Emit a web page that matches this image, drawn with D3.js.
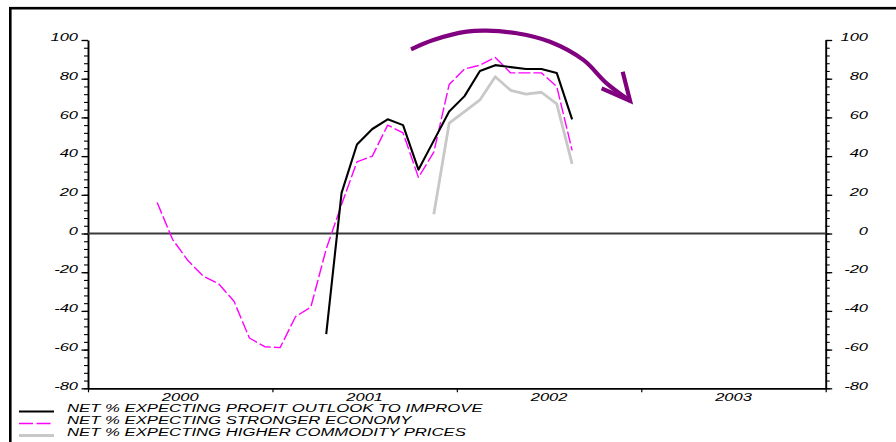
<!DOCTYPE html>
<html>
<head>
<meta charset="utf-8">
<script src="https://cdn.jsdelivr.net/npm/d3@7/dist/d3.min.js"></script>
<style>
  html, body { margin: 0; padding: 0; background: #fff; }
  svg { display: block; }
  text { font-family: "Liberation Sans", Arial, sans-serif; font-style: italic; font-size: 11px; fill: #000; }
</style>
</head>
<body>
<script>
// Monthly survey readings, May 2000 – Aug 2002 (month index counted from Jan 2000)
const firstMonth = 4;
const monthLabels = ["2000-05","2000-06","2000-07","2000-08","2000-09","2000-10","2000-11","2000-12",
  "2001-01","2001-02","2001-03","2001-04","2001-05","2001-06","2001-07","2001-08","2001-09","2001-10","2001-11","2001-12",
  "2002-01","2002-02","2002-03","2002-04","2002-05","2002-06","2002-07","2002-08"];

const profitOutlook = [null,null,null,null,null,null,null,null,null,null,null,
  -52, 21, 46, 54, 59, 56, 33, 48, 63, 71, 84, 87, 86, 85, 85, 83, 59];
const strongerEconomy = [16, -3, -14, -22, -26, -35, -54, -58.5, -59, -43, -38,
  -8, 15, 37, 40, 56, 52, 29, 42, 77, 85, 87, 91, 83, 83, 83, 76, 43];
const commodityPrices = [null,null,null,null,null,null,null,null,null,null,null,
  null,null,null,null,null,null,null, 10, 57, 63, 69, 81, 74, 72, 73, 67, 36];

const yearLabels = ["2000", "2001", "2002", "2003"];
const yMajorTicks = [-80, -60, -40, -20, 0, 20, 40, 60, 80, 100];
const legendLabels = [
  "NET % EXPECTING PROFIT OUTLOOK TO IMPROVE",
  "NET % EXPECTING STRONGER ECONOMY",
  "NET % EXPECTING HIGHER COMMODITY PRICES"
];

// Downturn arrow drawn in chart units: [months since Jan 2000, net %]
const arrowArc = [[21.02, 95.2], [22.47, 100], [24.64, 104.3], [25.94, 104.8], [27.89, 103.5],
  [30.06, 99.1], [32.23, 89.7], [33.75, 77.6], [35.27, 68.6]];
const arrowHead = [[34.79, 83.6], [35.27, 68.6], [33.42, 75.0]];

const W = 896, H = 442;
const svg = d3.select("body").append("svg").attr("width", W).attr("height", H);

// frame
svg.append("rect").attr("x", 10.3).attr("y", 8.2).attr("width", 960).attr("height", 500)
  .attr("fill", "none").attr("stroke", "#000").attr("stroke-width", 2.6);

const plot = { left: 88, right: 825.7, top: 40, bottom: 388.3 };
const x = d3.scaleLinear().domain([0, 48]).range([plot.left, plot.right]);
const y = d3.scaleLinear().domain([-80, 100]).range([plot.bottom, plot.top]);
const sx = 1.5; // horizontal stretch of the lettering
const fmt = d => String(d); // plain hyphen for negatives

// y axes: minor ticks every 4, major every 20
function yAxes(gen, xPos, side) {
  const minor = svg.append("g").attr("transform", `translate(${xPos},0)`)
    .call(gen(y).tickValues(d3.range(-80, 101, 4)).tickSize(4).tickSizeOuter(0).tickFormat(""));
  minor.select(".domain").attr("stroke", "#000").attr("stroke-width", 1.9);
  minor.selectAll(".tick line").attr("stroke", "#000").attr("stroke-width", 1.1);
  const major = svg.append("g").attr("transform", `translate(${xPos},0)`)
    .call(gen(y).tickValues(yMajorTicks).tickSize(6.5).tickSizeOuter(0).tickFormat(fmt));
  major.attr("font-family", null).attr("font-size", null);
  major.select(".domain").remove();
  major.selectAll(".tick line").attr("stroke", "#000").attr("stroke-width", 1.3);
  major.selectAll(".tick text")
    .attr("x", null).attr("dy", null)
    .attr("text-anchor", "end")
    .attr("transform", `translate(${side === "left" ? -10 : 42.3},0.7) scale(${sx},1)`);
}
yAxes(d3.axisLeft, plot.left, "left");
yAxes(d3.axisRight, plot.right, "right");

// x axis: year boundaries with labels centred in each year
const xa = svg.append("g").attr("transform", `translate(0,${plot.bottom})`)
  .call(d3.axisBottom(x).tickValues([0, 12, 24, 36, 48]).tickSize(4).tickSizeOuter(0).tickFormat(""));
xa.select(".domain").attr("stroke", "#000").attr("stroke-width", 1.7);
xa.selectAll(".tick line").attr("stroke", "#000").attr("stroke-width", 1.2);
svg.append("g").selectAll("text").data(yearLabels).join("text")
  .attr("text-anchor", "middle")
  .attr("transform", (d, i) => `translate(${x(i * 12 + 6)},401.2) scale(${sx},1)`)
  .text(d => d);

// zero line
svg.append("line").attr("x1", x(0)).attr("x2", x(48)).attr("y1", y(0)).attr("y2", y(0))
  .attr("stroke", "#3a3a3a").attr("stroke-width", 2);

// series
const xm = i => x(firstMonth + i + 0.5);
const lineGen = d3.line().defined(d => d != null).x((d, i) => xm(i)).y(d => y(d));
const series = [
  { values: commodityPrices, color: "#c8c8c8", width: 2.8, dash: null },
  { values: strongerEconomy, color: "#ff00ff", width: 1.4, dash: "12,3" },
  { values: profitOutlook, color: "#000000", width: 2.1, dash: null }
];
svg.append("g").selectAll("path").data(series).join("path")
  .attr("d", d => lineGen(d.values))
  .attr("fill", "none")
  .attr("stroke", d => d.color)
  .attr("stroke-width", d => d.width)
  .attr("stroke-dasharray", d => d.dash)
  .attr("stroke-linejoin", "round");

// downturn arrow
const arrowLine = d3.line().x(d => x(d[0])).y(d => y(d[1]));
svg.append("path").attr("d", arrowLine.curve(d3.curveCatmullRom)(arrowArc))
  .attr("fill", "none").attr("stroke", "#800080").attr("stroke-width", 4.2);
svg.append("path").attr("d", d3.line().x(d => x(d[0])).y(d => y(d[1]))(arrowHead))
  .attr("fill", "none").attr("stroke", "#800080").attr("stroke-width", 4.2)
  .attr("stroke-linejoin", "miter").attr("stroke-linecap", "butt");

// legend
const legendRows = [
  { color: "#000000", width: 2.1, dash: null, y: 411.5 },
  { color: "#ff00ff", width: 1.5, dash: "14,3.5", y: 423.5 },
  { color: "#c8c8c8", width: 2.8, dash: null, y: 435.5 }
];
const lg = svg.append("g").selectAll("g").data(legendRows).join("g");
lg.append("line").attr("x1", 19).attr("x2", 54).attr("y1", d => d.y).attr("y2", d => d.y)
  .attr("stroke", d => d.color).attr("stroke-width", d => d.width).attr("stroke-dasharray", d => d.dash);
lg.append("text").attr("transform", d => `translate(67,${d.y + 0.9}) scale(1.52,1)`)
  .text((d, i) => legendLabels[i]);
</script>
</body>
</html>
